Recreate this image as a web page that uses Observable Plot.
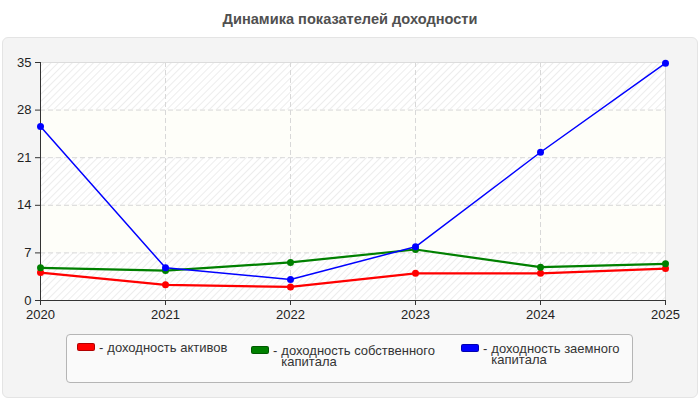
<!DOCTYPE html>
<html><head><meta charset="utf-8">
<script src="https://cdn.jsdelivr.net/npm/d3@7"></script>
<script src="https://cdn.jsdelivr.net/npm/@observablehq/plot@0.6"></script>
<style>
body{margin:0;font-family:"Liberation Sans",Arial,sans-serif;background:#fff}
#wrap{position:relative;width:700px;height:400px;background:#fff;overflow:hidden}
#panel{position:absolute;left:2px;top:37px;width:696px;height:361px;background:#f4f4f4;border:1px solid #e4e4e4;border-radius:6px;box-sizing:border-box}
#title{position:absolute;left:0;top:11px;width:700px;text-align:center;font-weight:bold;font-size:14.6px;line-height:17px;color:#505050}
#chart{position:absolute;left:0;top:0}
#legend{position:absolute;left:66px;top:334px;width:567px;height:49px;background:#fafafa;border:1px solid #b5b5b5;border-radius:4px;box-sizing:border-box}
.item{position:absolute;font-size:13px;color:#333;line-height:11px;display:flex;align-items:flex-start}
.sw{width:18px;height:8px;border-radius:2px;flex:none;box-sizing:border-box;border:1px solid rgba(0,0,0,0.3)}
.dash{margin:-1px 4px 0 4px;flex:none}
.txt{margin-top:-1px}
</style>
</head><body>
<div id="wrap">
  <div id="panel"></div>
  <div id="title"></div>
  <div id="chart"></div>
  <div id="legend"></div>
</div>
<script>
const title = "Динамика показателей доходности";
const years = [2020, 2021, 2022, 2023, 2024, 2025];
const assets = [4.1, 2.3, 2.0, 4.0, 4.0, 4.7];
const equity = [4.8, 4.4, 5.6, 7.5, 4.9, 5.4];
const debt = [25.6, 4.8, 3.1, 7.9, 21.8, 34.9];
const yTicks = [0, 7, 14, 21, 28, 35];
const seriesNames = ["доходность активов", "доходность собственного капитала", "доходность заемного капитала"];
const seriesColors = ["#ff0000", "#008000", "#0000ff"];
const seriesValues = [assets, equity, debt];

document.getElementById("title").textContent = title;

const bands = yTicks.slice(0, -1).map((t, i) => ({y1: t, y2: yTicks[i + 1], hatch: i % 2 === 0}));
const xMin = years[0], xMax = years[years.length - 1];

const lineMarks = [];
seriesValues.forEach((vals, s) => {
  const data = years.map((y, i) => ({year: y, value: vals[i]}));
  lineMarks.push(Plot.line(data, {x: "year", y: "value", stroke: seriesColors[s], strokeWidth: s === 2 ? 1.5 : 2.2}));
  lineMarks.push(Plot.dot(data, {x: "year", y: "value", fill: seriesColors[s], r: 3.5}));
});

const svg = Plot.plot({
  width: 700,
  height: 400,
  marginLeft: 40,
  marginRight: 35,
  marginTop: 62,
  marginBottom: 100,
  style: {background: "transparent", fontFamily: "'Liberation Sans', Arial, sans-serif", fontSize: "13px", color: "#222", overflow: "visible"},
  x: {domain: [xMin, xMax]},
  y: {domain: [yTicks[0], yTicks[yTicks.length - 1]]},
  marks: [
    Plot.rect(bands.filter(b => b.hatch), {x1: () => xMin, x2: () => xMax, y1: "y1", y2: "y2", fill: "url(#hatch)"}),
    Plot.rect(bands.filter(b => !b.hatch), {x1: () => xMin, x2: () => xMax, y1: "y1", y2: "y2", fill: "#fefef9"}),
    Plot.gridY(yTicks.slice(1, -1), {stroke: "#d8d8d8", strokeOpacity: 1, strokeDasharray: "5,3"}),
    Plot.gridX(years.slice(1, -1), {stroke: "#d8d8d8", strokeOpacity: 1, strokeDasharray: "5,3"}),
    Plot.ruleY([yTicks[yTicks.length - 1]], {stroke: "#dcdcdc"}),
    Plot.ruleX([xMax], {stroke: "#dcdcdc"}),
    Plot.axisY({ticks: yTicks, tickSize: 5, tickPadding: 4, label: null, stroke: "#333", fontSize: 13}),
    Plot.axisX({ticks: years, tickFormat: d3.format("d"), tickSize: 5, tickPadding: 4, label: null, stroke: "#333", fontSize: 13}),
    Plot.ruleX([xMin], {stroke: "#333"}),
    Plot.ruleY([yTicks[0]], {stroke: "#333"}),
    ...lineMarks
  ]
});

const defs = d3.select(svg).insert("defs", ":first-child");
const pat = defs.append("pattern").attr("id", "hatch").attr("patternUnits", "userSpaceOnUse")
  .attr("width", 5).attr("height", 5).attr("patternTransform", "rotate(45)");
pat.append("rect").attr("width", 5).attr("height", 5).attr("fill", "#ffffff");
pat.append("line").attr("x1", 0).attr("y1", 0).attr("x2", 0).attr("y2", 5).attr("stroke", "#e8e8e8").attr("stroke-width", 1.5);

document.getElementById("chart").appendChild(svg);

const legendPos = [{left: 10, top: 8, width: 140}, {left: 184, top: 11, width: 160}, {left: 394, top: 9, width: 140}];
const legend = document.getElementById("legend");
seriesNames.forEach((name, i) => {
  const item = document.createElement("div");
  item.className = "item";
  item.style.left = legendPos[i].left + "px";
  item.style.top = legendPos[i].top + "px";
  const sw = document.createElement("div");
  sw.className = "sw";
  sw.style.background = seriesColors[i];
  const dash = document.createElement("span");
  dash.className = "dash";
  dash.textContent = "-";
  const txt = document.createElement("span");
  txt.className = "txt";
  txt.textContent = name;
  txt.style.width = legendPos[i].width + "px";
  item.append(sw, dash, txt);
  legend.appendChild(item);
});
</script>
</body></html>
